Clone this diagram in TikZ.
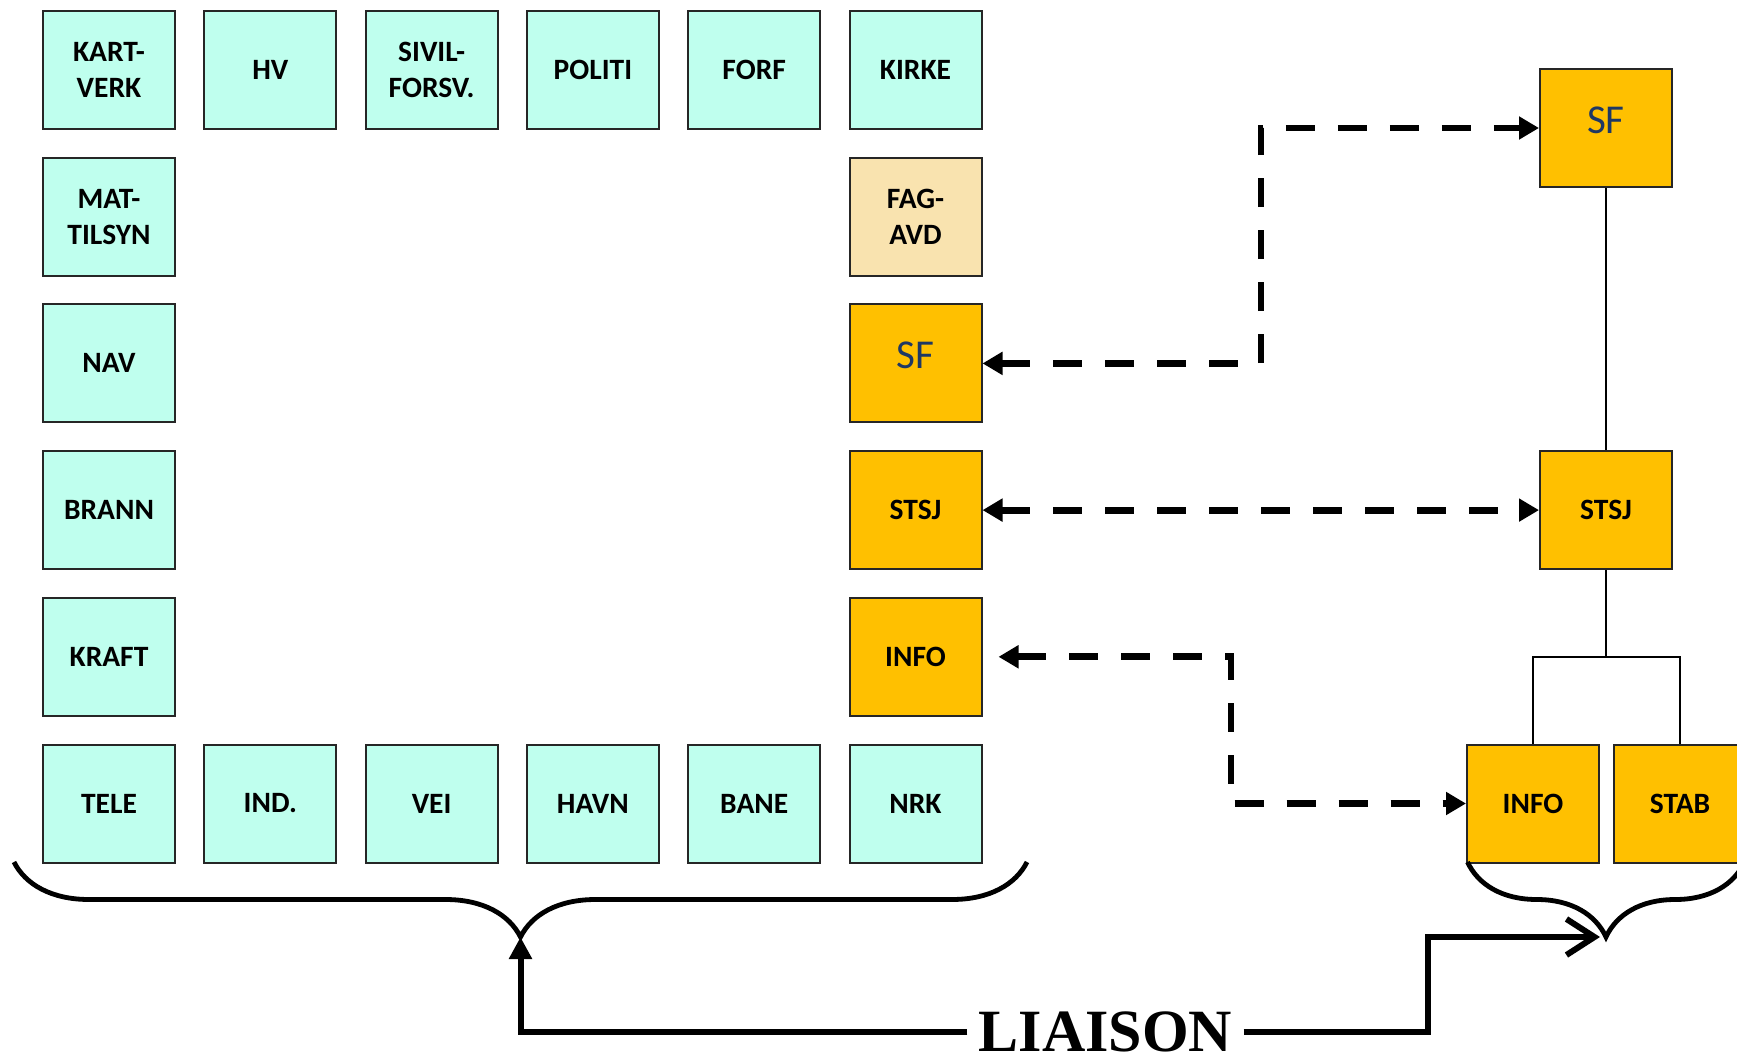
\documentclass[tikz,border=0pt]{standalone}
\usepackage{fontspec}
\setmainfont{Carlito}
\newfontfamily\liaisonfont{Liberation Serif}
\usepackage{tikz}
\usepackage{xcolor}
\usetikzlibrary{arrows.meta, decorations.pathreplacing}

\definecolor{mint}{HTML}{BFFFEE}
\definecolor{gold}{HTML}{FFC000}
\definecolor{sand}{HTML}{F9E3AF}
\definecolor{navy}{HTML}{1F3864}

\tikzset{
  unit/.style={draw=black!85, line width=1pt, minimum width=66pt, minimum height=59pt,
    inner sep=0pt, align=center, font=\bfseries\fontsize{14.75}{18}\selectfont},
  etat/.style={unit, fill=mint},
  krise/.style={unit, fill=gold},
  fag/.style={unit, fill=sand},
  sfbox/.style={unit, fill=gold, text=navy, text depth=8pt, font=\fontsize{20.5}{24}\selectfont},
  link/.style={line width=3.4pt, dash pattern=on 14.5pt off 11.5pt,
    >={Triangle[length=10pt,width=11pt]}, <->},
  tree/.style={line width=0.75pt},
  klamme/.style={line width=2.4pt, decorate, decoration={brace, mirror, amplitude=37.5pt}},
  pil/.style={line width=3pt}
}

\begin{document}
\begin{tikzpicture}[x=0.5pt, y=-0.5pt]
\useasboundingbox (0, 0) rectangle (1737, 1060);
%\draw[very thin, color=gray] (0, 0) grid[step=100] (1737, 1060);
%----------------------------------------
\node[etat] (KV) at (109, 70) {KART-\\VERK};
\node[etat] (HV) at (270.3, 70) {HV};
\node[etat] (SV) at (431.6, 70) {SIVIL-\\FORSV.};
\node[etat] (PO) at (592.9, 70) {POLITI};
\node[etat] (FO) at (754.2, 70) {FORF};
\node[etat] (KI) at (915.5, 70) {KIRKE};
\node[etat] (MT) at (109, 216.7) {MAT-\\TILSYN};
\node[fag] (FA) at (915.5, 216.7) {FAG-\\AVD};
\node[etat] (NA) at (109, 363.4) {NAV};
\node[sfbox] (SF) at (915.5, 363.4) {SF};
\node[etat] (BR) at (109, 510.1) {BRANN};
\node[krise] (ST) at (915.5, 510.1) {STSJ};
\node[etat] (KR) at (109, 656.8) {KRAFT};
\node[krise] (IN) at (915.5, 656.8) {INFO};
\node[etat] (TE) at (109, 803.5) {TELE};
\node[etat] (ID) at (270.3, 803.5) {IND.};
\node[etat] (VE) at (431.6, 803.5) {VEI};
\node[etat] (HA) at (592.9, 803.5) {HAVN};
\node[etat] (BA) at (754.2, 803.5) {BANE};
\node[etat] (NR) at (915.5, 803.5) {NRK};
%----------------------------------------
\node[sfbox] (SF') at (1606, 128) {SF};
\node[krise] (ST') at (1606, 510.1) {STSJ};
\node[krise] (IN') at (1533, 803.5) {INFO};
\node[krise] (SB') at (1680, 803.5) {STAB};
%----------------------------------------
\coordinate (split) at (1606, 657);
\draw[tree] (SF'.south) -- (ST'.north);
\draw[tree] (ST'.south) -- (split);
\draw[tree] (IN'.north) |- (split) -| (SB'.north);
%----------------------------------------
\coordinate (sfbend) at (1261, 128);
\coordinate (infobend) at (1231, 803.5);
\draw[link] (SF.east) -| (sfbend) -- (SF'.west);
\draw[link] (ST.east) -- (ST'.west);
\draw[link, shorten <=8pt] (IN.east) -| (infobend) -- (IN'.west);
%----------------------------------------
\coordinate (L1) at (14, 862);
\coordinate (L2) at (1027, 862);
\coordinate (R1) at (1467.5, 862);
\coordinate (R2) at (1744.5, 862);
\coordinate (tipL) at (520.5, 937);
\coordinate (tipR) at (1606, 937);
\coordinate (knee) at (1427.5, 937);
\draw[klamme] (L1) -- (L2);
\draw[klamme] (R1) -- (R2);
%----------------------------------------
\node[font=\liaisonfont\bfseries\fontsize{30}{36}\selectfont, inner xsep=5.5pt, inner ysep=0pt]
  (LI) at (1105.5, 1032) {LIAISON};
\draw[pil, -{Triangle[length=11pt,width=11pt]}] (LI.west) -| (tipL);
\draw[pil, -{Straight Barb[length=14pt,width=18pt]}, shorten >=3pt] (LI.east) -| (knee) -- (tipR);
\end{tikzpicture}
\end{document}
